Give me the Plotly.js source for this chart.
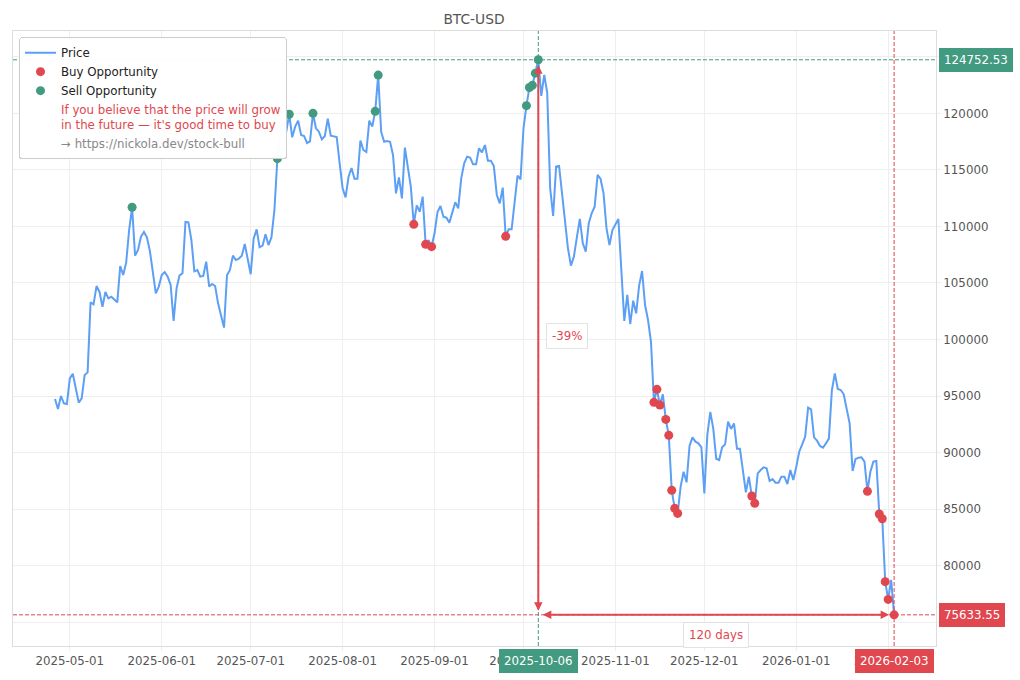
<!DOCTYPE html>
<html>
<head>
<meta charset="utf-8">
<script src="https://cdn.plot.ly/plotly-3.0.1.min.js"></script>
<style>html,body{margin:0;padding:0;background:#fff}#chart{width:1020px;height:680px}</style>
</head>
<body>
<div id="chart"></div>
<script>
const chartTitle = "BTC-USD";
const firstDay = "2025-04-26";
const priceValues = [
94730,93850,95000,94350,94290,96560,96970,95825,94410,94790,
96860,97090,103290,103110,104730,104230,102900,104200,103640,103790,
103550,103290,106500,105710,106800,109690,111700,107420,107920,109100,
109510,109040,107830,105710,104080,104680,105710,105970,105560,104820,
101640,104530,105680,105860,110400,110370,108800,106030,106150,105560,
105620,106890,104680,104910,104730,103200,102170,101050,105680,106150,
107420,107030,107150,107420,108450,107030,105770,108950,109750,108160,
108300,109310,108360,109040,111460,116000,118300,119200,118400,119930,
117890,118835,119365,118100,118010,117390,117540,120015,118690,118390,
117710,118010,119540,118040,118010,117920,115590,113380,112580,114410,
115180,114230,114230,117600,116770,116590,119365,118835,120190,123400,
118390,117500,117570,117500,116330,112935,114350,112490,116975,115295,
113525,110190,111870,111310,112640,108420,108800,108215,109400,111280,
111810,110870,110780,110340,111310,112140,111610,114260,115590,116180,
116090,115500,115500,116920,116560,117210,115820,115820,115350,112790,
112050,113435,109130,109750,109750,112050,114500,114170,118690,120690,
122300,122490,123570,124752.53,121550,123410,121845,113380,110930,115295,
115355,112935,110575,108070,106535,107330,109040,110665,108510,107770,
110280,111165,111755,114560,114205,112935,109840,108360,109690,110190,
110665,106150,101640,103940,101370,103435,102315,104765,106060,103050,
101725,99800,94440,95590,94200,95150,92930,91520,86650,85060,
84610,86975,88300,87360,90575,91340,90960,90810,90455,86385,
91550,93580,92140,89450,89335,90455,90720,92730,92080,92580,
90340,90340,88155,86470,87860,86150,85500,88155,88450,88690,
88600,87480,87650,87330,87330,87860,87860,87210,88450,87565,
88745,90070,90720,91400,93965,93820,91340,91045,90575,90425,
90810,91225,95470,97005,95620,95530,95150,93760,92580,88360,
89425,89540,89570,89190,86560,88300,89190,89250,84555,84140,
78570,77000,78715,75633.55
];
const buyDates = ["2025-08-25","2025-08-29","2025-08-31","2025-09-25","2025-11-14","2025-11-15","2025-11-16","2025-11-18","2025-11-19","2025-11-20","2025-11-21","2025-11-22","2025-12-17","2025-12-18","2026-01-25","2026-01-29","2026-01-30","2026-01-31","2026-02-01","2026-02-03"];
const buyValues = [110190,108420,108215,109130,94440,95590,94200,92930,91520,86650,85060,84610,86150,85500,86560,84555,84140,78570,77000,75633.55];
const sellDates = ["2025-05-22","2025-07-10","2025-07-14","2025-07-22","2025-08-12","2025-08-13","2025-10-02","2025-10-03","2025-10-04","2025-10-05","2025-10-06"];
const sellValues = [111700,116000,119930,120015,120190,123400,120690,122300,122490,123570,124752.53];
const peakDate = "2025-10-06", peakValue = 124752.53;
const lowDate = "2026-02-03", lowValue = 75633.55;
const dropLabel = "-39%", spanLabel = "120 days";
const promoText = "If you believe that the price will grow<br>in the future — it's good time to buy";
const promoLink = "→ https://nickola.dev/stock-bull";

const BLUE = "#5c9ff5", RED = "#e0474f", GREEN = "#429a80", GRID = "#eeeeee", TXT = "#555555";
const FONT = "DejaVu Sans, sans-serif", FS = 11.8;

const priceDates = priceValues.map((_, i) => {
  const d = new Date(firstDay + "T00:00:00Z");
  d.setUTCDate(d.getUTCDate() + i);
  return d.toISOString().slice(0, 10);
});

const traces = [
  {x: priceDates, y: priceValues, mode: "lines", name: "Price", line: {color: BLUE, width: 2}},
  {x: buyDates, y: buyValues, mode: "markers", name: "Buy Opportunity", marker: {color: RED, size: 9}},
  {x: sellDates, y: sellValues, mode: "markers", name: "Sell Opportunity", marker: {color: GREEN, size: 9}},
  {x: [null], y: [null], mode: "markers", marker: {opacity: 0, color: "#fff", size: 1},
   name: `<span style="color:${RED}">${promoText}</span>`},
  {x: [null], y: [null], mode: "markers", marker: {opacity: 0, color: "#fff", size: 1},
   name: `<span style="color:#888888">${promoLink}</span>`}
];

const dash = "4px,2px";
const shapes = [
  {type: "line", xref: "paper", x0: 0, x1: 1, yref: "y", y0: peakValue, y1: peakValue, line: {color: GREEN, width: 1, dash}},
  {type: "line", xref: "paper", x0: 0, x1: 1, yref: "y", y0: lowValue, y1: lowValue, line: {color: RED, width: 1, dash}},
  {type: "line", yref: "paper", y0: 0, y1: 1, xref: "x", x0: peakDate, x1: peakDate, line: {color: GREEN, width: 1, dash}},
  {type: "line", yref: "paper", y0: 0, y1: 1, xref: "x", x0: lowDate, x1: lowDate, line: {color: RED, width: 1, dash}}
];

const tag = (o, bg) => Object.assign({showarrow: false, bgcolor: bg, borderpad: 5, borderwidth: 0,
  font: {family: FONT, size: FS, color: "#ffffff"}}, o);
const bubble = (o) => Object.assign({showarrow: false, bgcolor: "#ffffff", bordercolor: "#e2e2e2", borderwidth: 1, borderpad: 5,
  font: {family: FONT, size: FS, color: RED}}, o);
const arrow = (o) => Object.assign({text: "", showarrow: true, arrowside: "end+start", arrowhead: 2, arrowsize: 0.85, arrowwidth: 2,
  arrowcolor: RED, xref: "x", yref: "y", axref: "x", ayref: "y"}, o);

const annotations = [
  arrow({x: peakDate, y: lowValue, ax: peakDate, ay: peakValue, standoff: 4, startstandoff: 4}),
  arrow({x: lowDate, y: lowValue, ax: peakDate, ay: lowValue, standoff: 5, startstandoff: 3}),
  bubble({text: dropLabel, xref: "paper", x: 0.6002, yref: "y", y: 100310, xanchor: "center", yanchor: "middle"}),
  bubble({text: spanLabel, xref: "paper", x: 0.7617, yref: "y", y: 73848, xanchor: "center", yanchor: "middle"}),
  tag({text: peakValue.toFixed(2), xref: "paper", x: 1.0033, yref: "y", y: peakValue, xanchor: "left", yanchor: "middle"}, GREEN),
  tag({text: lowValue.toFixed(2), xref: "paper", x: 1.0033, yref: "y", y: lowValue, xanchor: "left", yanchor: "middle"}, RED),
  tag({text: peakDate, xref: "x", x: peakDate, yref: "paper", y: -0.0252, xanchor: "center", yanchor: "middle"}, GREEN),
  tag({text: lowDate, xref: "x", x: lowDate, yref: "paper", y: -0.0252, xanchor: "center", yanchor: "middle"}, RED)
];

const layout = {
  width: 1020, height: 680,
  margin: {l: 13, r: 84, t: 31, b: 34},
  paper_bgcolor: "#ffffff", plot_bgcolor: "#ffffff",
  font: {family: FONT, size: FS, color: TXT},
  title: {text: chartTitle, x: 0.4647, xanchor: "center", y: 0.972, yanchor: "middle", font: {family: FONT, size: 13.8, color: TXT}},
  xaxis: {
    type: "date", range: ["2025-04-11 20:00", "2026-02-17 03:00"],
    tick0: "2025-05-01", dtick: "M1", tickformat: "%Y-%m-%d",
    showgrid: true, gridcolor: GRID, gridwidth: 1, zeroline: false,
    showline: true, mirror: true, linecolor: "#dddddd", linewidth: 1,
    ticks: "outside", ticklen: 4, tickcolor: GRID, tickfont: {family: FONT, size: FS, color: TXT}
  },
  yaxis: {
    side: "right", range: [72876, 127300], tick0: 0, dtick: 5000, tickformat: "d",
    showgrid: true, gridcolor: GRID, gridwidth: 1, zeroline: false,
    showline: true, mirror: true, linecolor: "#dddddd", linewidth: 1,
    ticks: "outside", ticklen: 4, tickcolor: GRID, tickfont: {family: FONT, size: FS, color: TXT}
  },
  legend: {
    x: 0.0065, y: 0.990, xanchor: "left", yanchor: "top", itemwidth: 31,
    entrywidth: 232, entrywidthmode: "pixels",
    bgcolor: "rgba(255,255,255,0.97)", bordercolor: "#cccccc", borderwidth: 1,
    font: {family: FONT, size: FS, color: "#222222"}, tracegroupgap: 0
  },
  shapes, annotations, showlegend: true, hovermode: false
};

Plotly.newPlot("chart", traces, layout, {displayModeBar: false, responsive: false}).then(() => {
  document.querySelectorAll(".legend .bg").forEach(r => { r.setAttribute("rx", 3); r.setAttribute("ry", 3); });
});
</script>
</body>
</html>
